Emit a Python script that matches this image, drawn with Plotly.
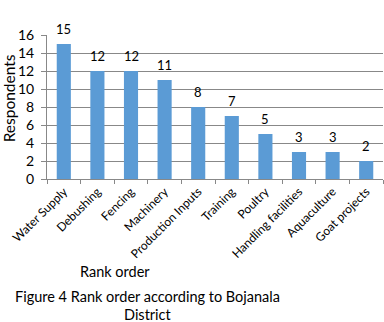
import plotly.graph_objects as go

categories = ["Water Supply", "Debushing", "Fencing", "Machinery", "Production Inputs",
              "Training", "Poultry", "Handling facilities", "Aquaculture", "Goat projects"]
respondents = [15, 12, 12, 11, 8, 7, 5, 3, 3, 2]
y_ticks = [0, 2, 4, 6, 8, 10, 12, 14, 16]

FONT = "Lato"
GRID = "#888888"

fig = go.Figure()
fig.add_trace(go.Bar(x=categories, y=respondents, marker=dict(color="#5B9BD5", line=dict(width=0)),
                     showlegend=False, cliponaxis=False, hoverinfo="skip"))

for c, v in zip(categories, respondents):
    fig.add_annotation(x=c, y=v, text=str(v), showarrow=False, yanchor="middle", yshift=15,
                       font=dict(family=FONT, size=13, color="black"))

fig.add_annotation(xref="paper", yref="paper", x=-0.112, y=0.5625, text="Respondents", textangle=-90,
                   showarrow=False, font=dict(family=FONT, size=15.5, color="black"),
                   xanchor="center", yanchor="middle")
fig.add_annotation(xref="paper", yref="paper", x=0.092, y=-0.639, xanchor="left", yanchor="middle",
                   text="Rank order", showarrow=False, font=dict(family=FONT, size=14.5, color="black"))
fig.add_annotation(xref="paper", yref="paper", x=-0.101, y=-0.815, xanchor="left", yanchor="middle",
                   text="Figure 4 Rank order according to Bojanala", showarrow=False,
                   font=dict(family=FONT, size=14.5, color="black"))
fig.add_annotation(xref="paper", yref="paper", x=0.30, y=-0.94, xanchor="center", yanchor="middle",
                   text="District", showarrow=False, font=dict(family=FONT, size=14.5, color="black"))

fig.update_layout(
    width=384, height=322,
    margin=dict(l=47, r=1, t=35, b=143),
    paper_bgcolor="white", plot_bgcolor="white",
    bargap=0.58,
    font=dict(family=FONT, size=13, color="black"),
    xaxis=dict(tickangle=-45, showline=True, linecolor=GRID, linewidth=1, ticks="outside",
               ticklen=4, tickcolor=GRID, tickson="boundaries", showgrid=False, automargin=False,
               tickfont=dict(family=FONT, size=12, color="black")),
    yaxis=dict(range=[0, 16], tickvals=y_ticks, showgrid=True, gridcolor=GRID, gridwidth=1,
               showline=True, linecolor=GRID, linewidth=1, ticks="outside", ticklen=5,
               tickcolor=GRID, zeroline=False, automargin=False, ticklabelstandoff=4,
               tickfont=dict(family=FONT, size=14, color="black")),
)

# remove the browser's default 8px body margin so the figure fills the window
fig.write_html("out.html", config={"displayModeBar": False},
               post_script="document.body.style.margin='0';")
